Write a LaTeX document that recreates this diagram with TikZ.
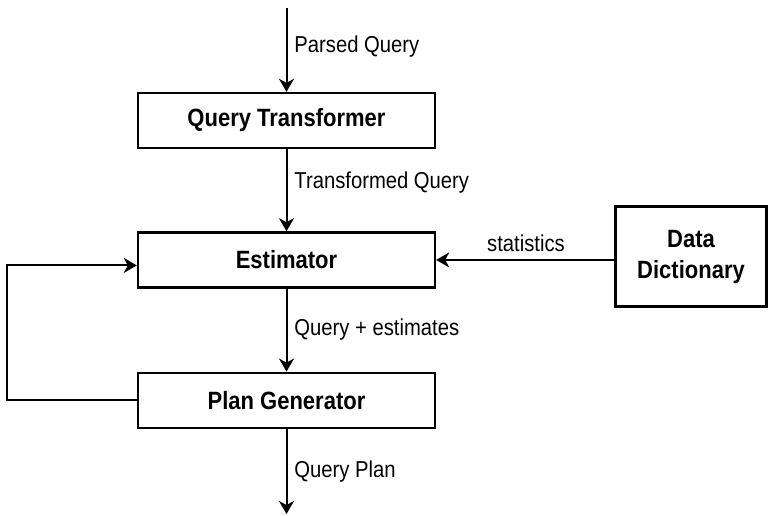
\documentclass[tikz,border=0pt]{standalone}
\usepackage{fontspec}
\setmainfont{Liberation Sans}[FakeStretch=0.88]
\usepackage{tikz}
\usetikzlibrary{arrows.meta,positioning}

\begin{document}
\begin{tikzpicture}[
                x=0.5pt,y=-0.5pt,
                node distance=0pt,
                stage/.style={draw,line width=1.2pt,minimum width=148.5pt,minimum height=27.5pt,inner sep=0pt,font=\bfseries\fontsize{12.5}{15}\selectfont},
                flowlabel/.style={anchor=west,inner sep=0pt,font=\fontsize{11.5}{13}\selectfont},
                flow/.style={line width=1pt,-{Stealth[length=6.5pt,width=7.5pt,inset=2pt]}}
            ]
                \useasboundingbox (0,0) rectangle (769,515);
                \node (qt) [stage] at (286.5,120.5) {Query Transformer};
                \node (est) [stage,below=41pt of qt] {Estimator};
                \node (pg) [stage,below=41.5pt of est] {Plan Generator};
                \node (dd) [stage,minimum width=75.5pt,minimum height=50pt,align=center,font=\bfseries\fontsize{12.5}{15.5}\selectfont] at (691,256.5) {Data\\Dictionary};
                \coordinate (in) at (286.5,8);
                \coordinate (out) at (286.5,514);
                \draw[flow] (in) -- (qt);
                \draw[flow] (qt) -- (est);
                \draw[flow] (est) -- (pg);
                \draw[flow] (pg) -- (out);
                \draw[flow] (dd.west |- est.east) -- (est.east);
                \draw[flow] (pg.west) -- ++(-130,0) |- ([yshift=-2.75pt]est.west);
                \node (parsed) [flowlabel] at (294,47) {Parsed Query};
                \node (transformed) [flowlabel] at (294,183) {Transformed Query};
                \node (estimates) [flowlabel] at (294,330) {Query + estimates};
                \node (plan) [flowlabel] at (294,472) {Query Plan};
                \node (stats) [flowlabel,anchor=center] at (526,243) {statistics};
            \end{tikzpicture}
\end{document}
